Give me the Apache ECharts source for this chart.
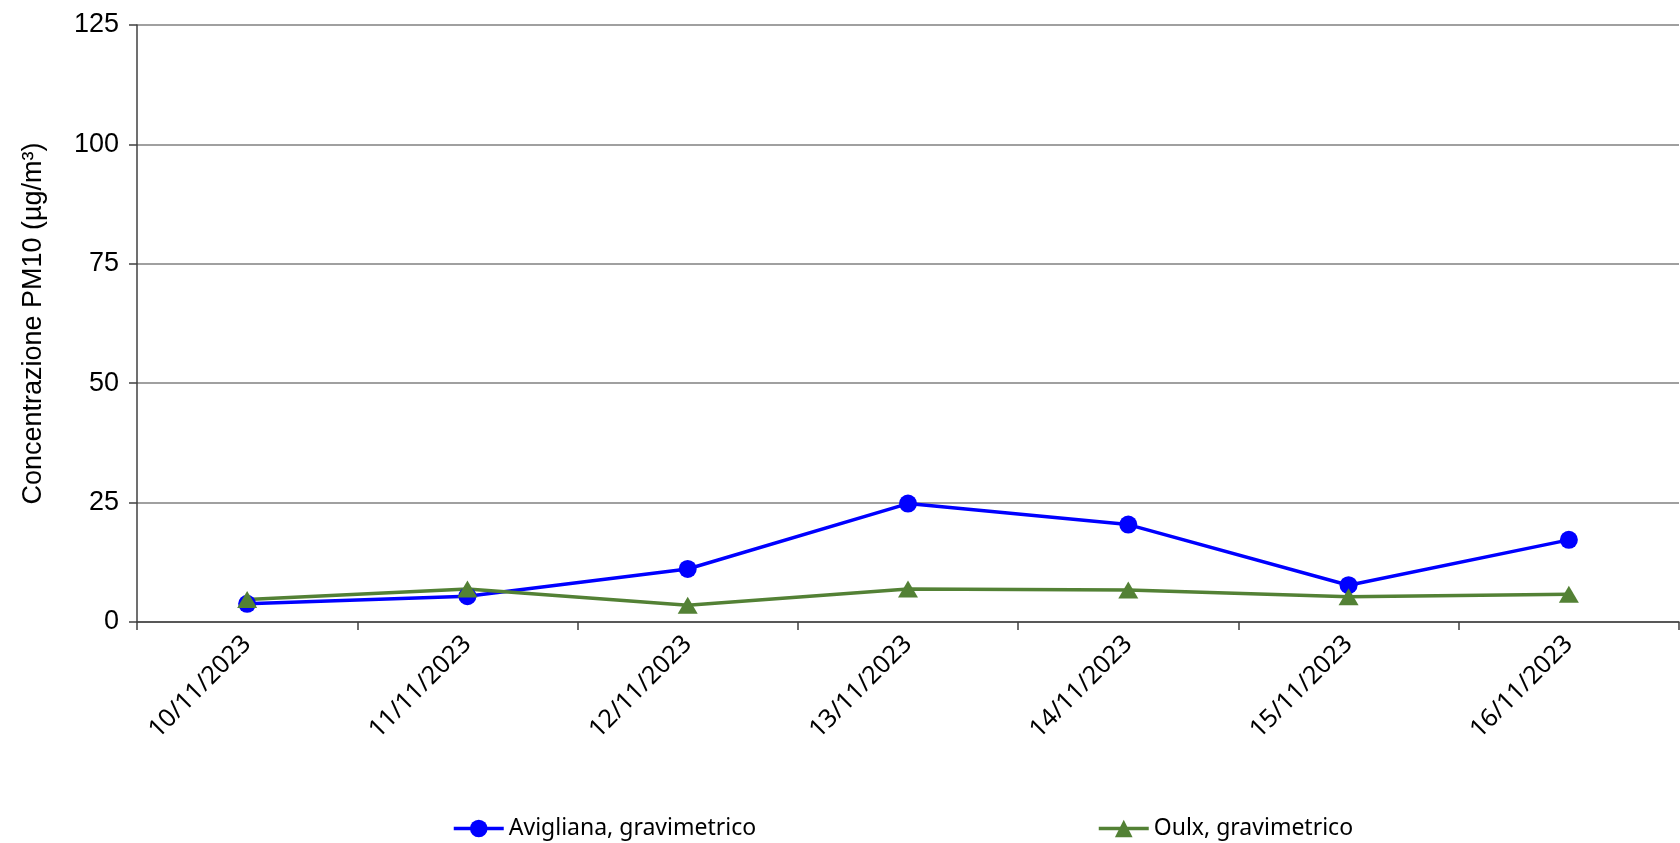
<!DOCTYPE html>
<html>
<head>
<meta charset="utf-8">
<script src="https://cdn.jsdelivr.net/npm/echarts@6/dist/echarts.min.js"></script>
<style>
html,body{margin:0;padding:0;background:#fff;}
#chart{width:1680px;height:843px;}
</style>
</head>
<body>
<div id="chart"></div>
<script>
const categories = ['10/11/2023','11/11/2023','12/11/2023','13/11/2023','14/11/2023','15/11/2023','16/11/2023'];
const avigliana = [3.8, 5.4, 11.1, 24.8, 20.4, 7.7, 17.2];
const oulx = [4.7, 6.9, 3.5, 6.9, 6.7, 5.3, 5.8];
const yTicks = [0, 25, 50, 75, 100, 125];
const seriesNames = ['Avigliana, gravimetrico', 'Oulx, gravimetrico'];

const chart = echarts.init(document.getElementById('chart'));
const legendText = {fontFamily: 'Noto Sans', fontSize: 23, color: '#000'};
chart.setOption({
  animation: false,
  backgroundColor: '#fff',
  grid: {left: 137, right: 1, top: 25, bottom: 221, containLabel: false},
  legend: [
    {data: [seriesNames[0]], left: 447, top: 812, itemWidth: 50, itemHeight: 22, itemGap: 5, textStyle: legendText, lineStyle: {width: 3.5}},
    {data: [seriesNames[1]], left: 1092, top: 812, itemWidth: 50, itemHeight: 22, itemGap: 5, textStyle: legendText, lineStyle: {width: 3.5}}
  ],
  xAxis: {
    type: 'category',
    data: categories,
    boundaryGap: true,
    axisLine: {lineStyle: {color: '#404040', width: 1.5}},
    axisTick: {show: true, length: 8, lineStyle: {color: '#404040', width: 1.5}},
    axisLabel: {rotate: 45, margin: 18, fontFamily: 'Noto Sans', fontSize: 25, color: '#000'}
  },
  yAxis: {
    type: 'value',
    min: yTicks[0],
    max: yTicks[yTicks.length - 1],
    interval: 25,
    name: 'Concentrazione PM10 (µg/m³)',
    nameLocation: 'middle',
    nameGap: 90,
    nameTextStyle: {fontFamily: 'Liberation Sans', fontSize: 27, color: '#000'},
    axisLine: {show: true, lineStyle: {color: '#404040', width: 1.5}},
    axisTick: {show: true, length: 8, lineStyle: {color: '#404040', width: 1.5}},
    axisLabel: {margin: 18, fontFamily: 'Liberation Sans', fontSize: 27, color: '#000'},
    splitLine: {show: true, lineStyle: {color: '#808080', width: 1.5}}
  },
  series: [
    {
      name: seriesNames[0], type: 'line', data: avigliana,
      symbol: 'circle', symbolSize: 18,
      lineStyle: {color: '#0000FF', width: 3.5},
      itemStyle: {color: '#0000FF'}
    },
    {
      name: seriesNames[1], type: 'line', data: oulx,
      symbol: 'triangle', symbolSize: [20, 17],
      lineStyle: {color: '#538135', width: 3.5},
      itemStyle: {color: '#538135'}
    }
  ]
});
</script>
</body>
</html>
